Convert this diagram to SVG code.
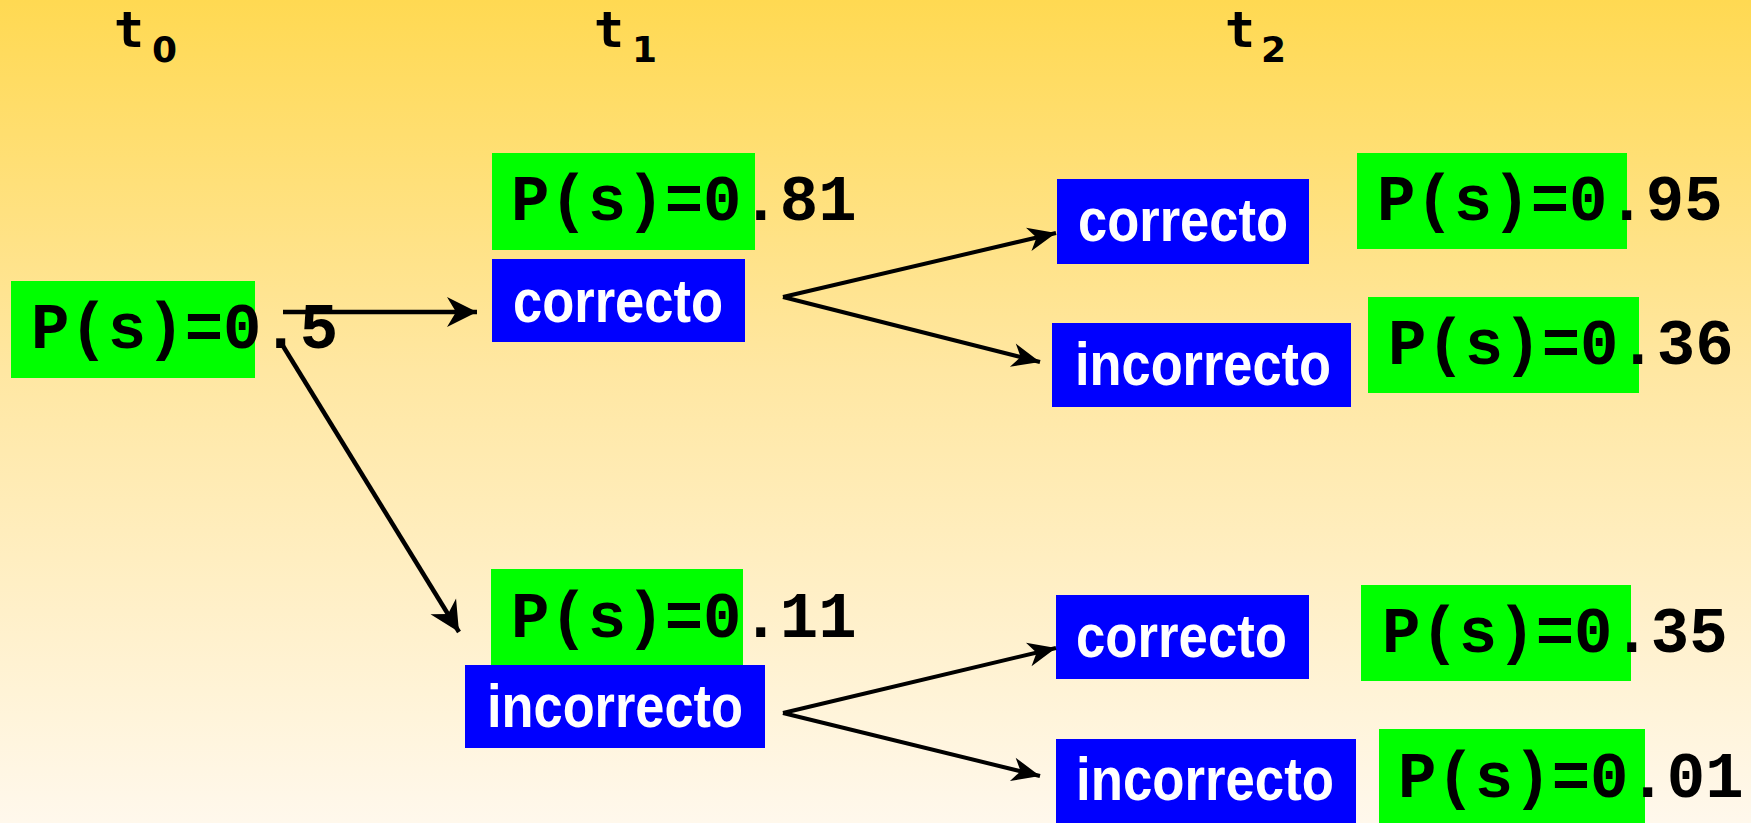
<svg xmlns="http://www.w3.org/2000/svg" width="1751" height="823" viewBox="0 0 1751 823">
  <defs>
    <linearGradient id="bg" x1="0" y1="0" x2="0" y2="1">
      <stop offset="0" stop-color="#FFD952"/>
      <stop offset="0.45" stop-color="#FFE7A2"/>
      <stop offset="1" stop-color="#FFF8EC"/>
    </linearGradient>
    <marker id="bigArrow" markerUnits="userSpaceOnUse" markerWidth="34" markerHeight="34" viewBox="-32 -17 34 34" refX="0" refY="0" orient="auto">
      <path d="M0,0 L-30,-15 L-21,0 L-30,15 Z" fill="#000"/>
    </marker>
    <marker id="smallArrow" markerUnits="userSpaceOnUse" markerWidth="32" markerHeight="30" viewBox="-30 -15 32 30" refX="0" refY="0" orient="auto">
      <path d="M0,0 L-28,-12 L-20,0 L-28,12 Z" fill="#000"/>
    </marker>
    <style>
      .green { fill: #00FF00; }
      .blue { fill: #0000FF; }
      .prob { font-family: "Liberation Mono", "Courier New", monospace; font-weight: bold; font-size: 64px; fill: #000; }
      .lab { font-family: "Liberation Sans", Arial, sans-serif; font-weight: bold; font-size: 62px; fill: #FFFFFF; }
      .hdr { font-family: "DejaVu Sans Mono", monospace; font-weight: bold; font-size: 50px; fill: #000; }
      .sub { font-family: "DejaVu Sans", sans-serif; font-weight: bold; font-size: 36px; }
      .big { stroke: #000; stroke-width: 4.5; fill: none; marker-end: url(#bigArrow); }
      .small { stroke: #000; stroke-width: 4; fill: none; marker-end: url(#smallArrow); }
    </style>
  </defs>

  <rect x="0" y="0" width="1751" height="823" fill="url(#bg)"/>

  <g id="headers">
    <text class="hdr" x="114" y="47">t<tspan class="sub" x="152" y="62">0</tspan></text>
    <text class="hdr" x="594" y="47">t<tspan class="sub" x="632" y="62">1</tspan></text>
    <text class="hdr" x="1225" y="47">t<tspan class="sub" x="1261" y="62">2</tspan></text>
  </g>

  <g id="root">
    <rect class="green" x="11" y="281" width="244" height="97"/>
    <text class="prob" x="31" y="348">P(s)=0.5</text>
  </g>

  <g id="t1-correct">
    <rect class="green" x="492" y="153" width="263" height="97"/>
    <text class="prob" x="511" y="220">P(s)=0.81</text>
    <rect class="blue" x="492" y="259" width="253" height="83"/>
    <text class="lab" x="513" y="322" textLength="210" lengthAdjust="spacingAndGlyphs">correcto</text>
  </g>

  <g id="t1-incorrect">
    <rect class="green" x="491" y="569" width="252" height="97"/>
    <text class="prob" x="511" y="637">P(s)=0.11</text>
    <rect class="blue" x="465" y="665" width="300" height="83"/>
    <text class="lab" x="487" y="727" textLength="256" lengthAdjust="spacingAndGlyphs">incorrecto</text>
  </g>

  <g id="t2-cc">
    <rect class="blue" x="1057" y="179" width="252" height="85"/>
    <text class="lab" x="1078" y="241" textLength="210" lengthAdjust="spacingAndGlyphs">correcto</text>
    <rect class="green" x="1357" y="153" width="270" height="96"/>
    <text class="prob" x="1377" y="220">P(s)=0.95</text>
  </g>

  <g id="t2-ci">
    <rect class="blue" x="1052" y="323" width="299" height="84"/>
    <text class="lab" x="1075" y="385" textLength="256" lengthAdjust="spacingAndGlyphs">incorrecto</text>
    <rect class="green" x="1368" y="297" width="271" height="96"/>
    <text class="prob" x="1388" y="364">P(s)=0.36</text>
  </g>

  <g id="t2-ic">
    <rect class="blue" x="1056" y="595" width="253" height="84"/>
    <text class="lab" x="1076" y="657" textLength="211" lengthAdjust="spacingAndGlyphs">correcto</text>
    <rect class="green" x="1361" y="585" width="270" height="96"/>
    <text class="prob" x="1382" y="652">P(s)=0.35</text>
  </g>

  <g id="t2-ii">
    <rect class="blue" x="1056" y="739" width="300" height="84"/>
    <text class="lab" x="1076" y="800" textLength="258" lengthAdjust="spacingAndGlyphs">incorrecto</text>
    <rect class="green" x="1379" y="729" width="266" height="94"/>
    <text class="prob" x="1398" y="797">P(s)=0.01</text>
  </g>

  <g id="connectors">
    <line class="big" x1="283" y1="312" x2="477" y2="312"/>
    <line class="big" x1="283" y1="346" x2="459" y2="632"/>
    <line class="small" x1="783" y1="297" x2="1056" y2="233"/>
    <line class="small" x1="783" y1="297" x2="1040" y2="362"/>
    <line class="small" x1="783" y1="713" x2="1056" y2="648"/>
    <line class="small" x1="783" y1="713" x2="1040" y2="776"/>
  </g>
</svg>
